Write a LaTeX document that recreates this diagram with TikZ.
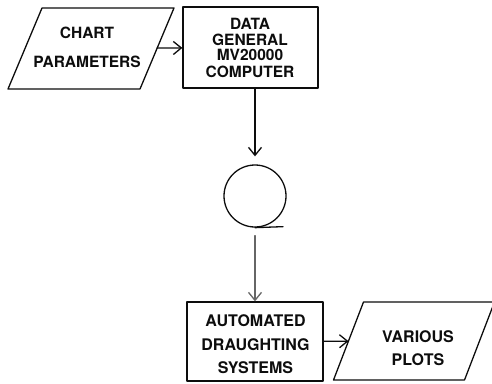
\documentclass[tikz,border=0pt]{standalone}
\usepackage{fontspec}
\setmainfont{TeX Gyre Heros}
\usepackage{tikz}
\usetikzlibrary{calc}
\usetikzlibrary{arrows.meta}
\definecolor{ink}{rgb}{0.05,0.05,0.05}
\definecolor{lightink}{rgb}{0.4,0.4,0.4}
\tikzstyle{every node}=[font=\fontsize{15}{15}\bfseries\selectfont,text=ink]
\tikzstyle{iobox}=[rectangle,inner sep=0pt,outer sep=0pt]
\tikzstyle{procbox}=[draw=ink,line width=1.3pt,rectangle,inner sep=0pt]
\tikzstyle{lbl}=[align=center,inner sep=0pt]
\tikzstyle{flow}=[line width=1.3pt,color=ink,->]
% slanted outline round an iobox node: #1 node name, #2 half of the slant
\newcommand{\slantframe}[2]{%
  \draw[line width=1.3pt,color=ink] ($(#1.north west)+(#2,0)$) -- ($(#1.north east)+(#2,0)$)
     -- ($(#1.south east)+(-#2,0)$) -- ($(#1.south west)+(-#2,0)$) -- cycle;}

\begin{document}
\begin{tikzpicture}[line cap=round,line join=round,>={Straight Barb[length=8pt,width=13pt]},x=1.0pt,y=-1.0pt]
            \useasboundingbox (0,0) rectangle (492,383);
            % shapes
            \node[iobox,minimum width=132pt,minimum height=81pt] (chart) at (91,48.5) {};
            \slantframe{chart}{17}
            \node[procbox,minimum width=135pt,minimum height=81pt] (dg) at (250.5,47.5) {};
            \node[draw=ink,line width=1.3pt,circle,minimum size=62pt,inner sep=0pt] (tape) at (255,196) {};
            \node[procbox,minimum width=136pt,minimum height=79pt] (auto) at (255,341.5) {};
            \node[iobox,minimum width=131pt,minimum height=78pt] (plots) at (414,341) {};
            \slantframe{plots}{15}
            % texts
            \node[lbl,font=\fontsize{15.5}{29}\bfseries\selectfont] (charttxt) at (87,47.5) {CHART\\PARAMETERS};
            \node[lbl,font=\fontsize{15.5}{15.5}\bfseries\selectfont] (dgtxt) at (250,48) {DATA\\GENERAL\\MV20000\\[1.4pt]COMPUTER};
            \node[lbl,font=\fontsize{16}{23.5}\bfseries\selectfont] (autotxt) at (255.5,344.5) {AUTOMATED\\DRAUGHTING\\SYSTEMS};
            \node[lbl,font=\fontsize{16}{23}\bfseries\selectfont] (plotstxt) at (418,348.5) {VARIOUS\\PLOTS};
            % connectors
            \draw[flow] (chart) -- (dg);
            \draw[flow,shorten >=8pt] (dg.south -| tape) -- (tape);
            \draw[line width=1.3pt,color=ink] (tape.south) -- ++(28,-1);
            \draw[flow,color=lightink,shorten <=8pt] (tape) -- (auto);
            \draw[flow] (auto) -- (plots);
\end{tikzpicture}
\end{document}
